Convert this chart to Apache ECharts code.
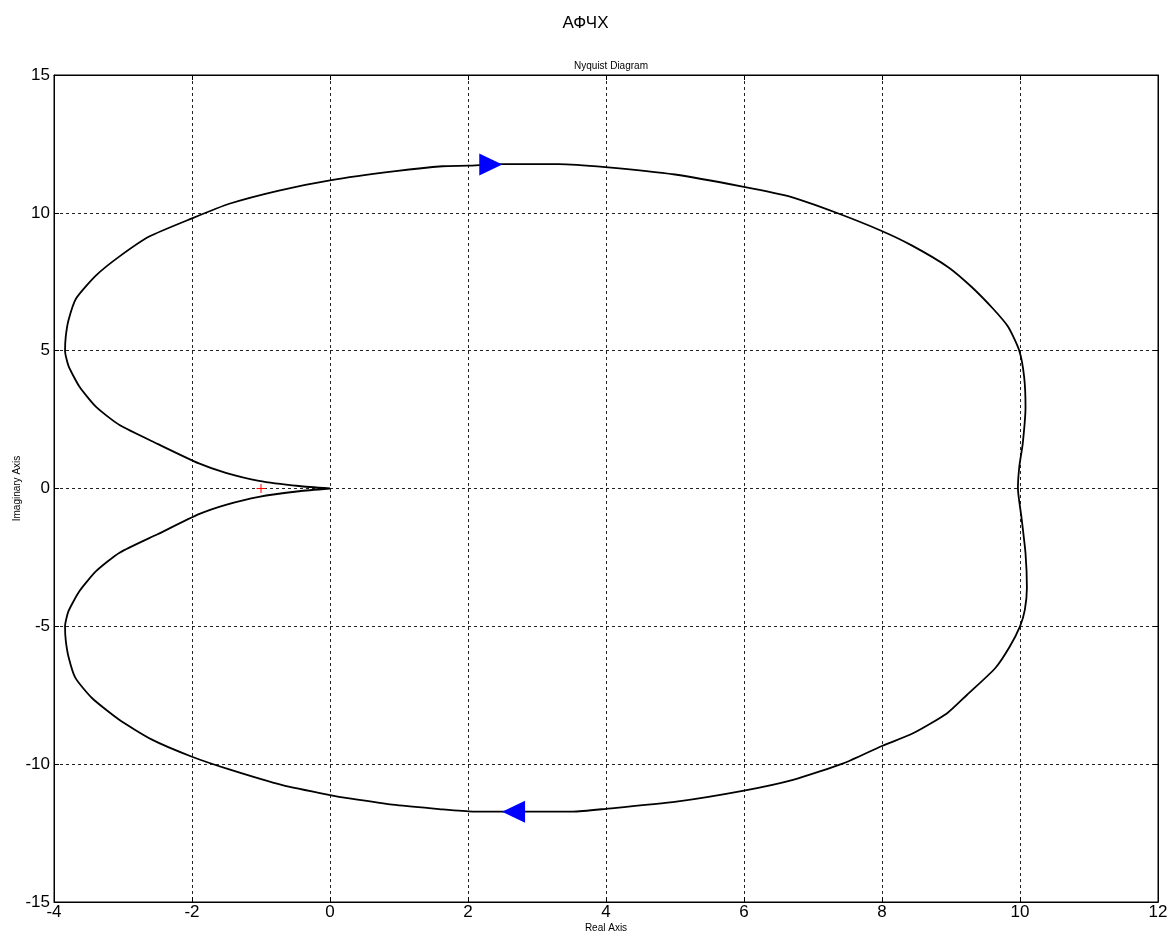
<!DOCTYPE html>
<html>
<head>
<meta charset="utf-8">
<title>АФЧХ</title>
<script src="https://cdn.jsdelivr.net/npm/echarts@6/dist/echarts.min.js"></script>
<style>
  html, body { margin: 0; padding: 0; background: #fff; }
  #chart { width: 1171px; height: 938px; }
</style>
</head>
<body>
<div id="chart"></div>
<script>
// Nyquist locus W(jω), traced over ω from -∞ to +∞ (real and imaginary parts)
const curveRe = [
  0.00, -0.45, -1.03, -1.51, -1.90, -2.50, -3.05, -3.39, -3.63, -3.79, -3.84, -3.83,
  -3.79, -3.68, -3.39, -3.05, -2.62, -2.00, -1.46, -0.74, 0.00, 0.95, 1.63, 2.00,
  2.49, 3.31, 3.99, 5.00, 5.98, 6.69, 7.32, 7.98, 8.43, 8.96, 9.30, 9.61, 9.83,
  9.99, 10.06, 10.08, 10.04, 9.99, 9.97, 10.02, 10.08, 10.10, 10.07, 10.00, 9.85,
  9.64, 9.23, 8.94, 8.45, 8.00, 7.44, 6.71, 6.00, 5.02, 4.00, 3.52, 2.07, 1.58,
  0.95, 0.28, 0.00, -0.69, -1.46, -2.00, -2.58, -3.06, -3.45, -3.69, -3.79, -3.83,
  -3.84, -3.79, -3.63, -3.39, -3.05, -2.50, -1.90, -1.51, -1.03, -0.45, 0.00
];
const curveIm = [
  0.00, 0.09, 0.28, 0.57, 0.91, 1.62, 2.30, 2.96, 3.69, 4.45, 5.00, 5.50,
  6.10, 6.89, 7.73, 8.42, 9.14, 9.80, 10.33, 10.81, 11.18, 11.51, 11.69, 11.71,
  11.77, 11.77, 11.66, 11.39, 10.95, 10.57, 10.02, 9.36, 8.82, 8.03, 7.31, 6.52, 5.86,
  5.00, 4.05, 2.96, 1.64, 0.79, 0.00, -1.02, -2.35, -3.60, -4.40, -5.00, -5.74,
  -6.52, -7.49, -8.16, -8.88, -9.34, -9.97, -10.57, -10.96, -11.36, -11.62, -11.72, -11.72, -11.63,
  -11.48, -11.24, -11.12, -10.76, -10.19, -9.73, -9.11, -8.38, -7.60, -6.87, -6.10, -5.50,
  -5.00, -4.45, -3.72, -3.00, -2.33, -1.66, -0.93, -0.59, -0.30, -0.10, 0.00
];

// Direction arrows on the locus: [re, im, rotation in degrees]
const arrowRe = [2.33, 2.66];
const arrowIm = [11.75, -11.73];
const arrowRot = [-90, 90];

// Critical point (-1, j0)
const criticalPoint = [-1, 0];

// Axis ranges and tick labels
const xTicks = [-4, -2, 0, 2, 4, 6, 8, 10, 12];
const yTicks = [-15, -10, -5, 0, 5, 10, 15];

const curveData = curveRe.map((re, i) => [re, curveIm[i]]);
const arrowData = arrowRe.map((re, i) => ({
  value: [re, arrowIm[i]],
  symbolRotate: arrowRot[i]
}));

const FONT = '"Liberation Sans", Arial, Helvetica, sans-serif';

const gridDash = { color: '#222', type: [3, 3], width: 1 };

function valueAxis(ticks, extra) {
  return Object.assign({
    type: 'value',
    min: ticks[0],
    max: ticks[ticks.length - 1],
    interval: ticks[1] - ticks[0],
    axisLine: { show: true, onZero: false, lineStyle: { color: '#000', width: 1 } },
    axisTick: { show: true, inside: true, length: 5, lineStyle: { color: '#000' } },
    splitLine: { show: false },
    axisLabel: { show: false }
  }, extra);
}

const chart = echarts.init(document.getElementById('chart'), null, { renderer: 'canvas' });

chart.setOption({
  backgroundColor: '#fff',
  animation: false,
  textStyle: { fontFamily: FONT },
  title: [
    {
      text: 'АФЧХ',
      left: 'center',
      top: 10,
      textStyle: { fontFamily: FONT, fontSize: 17, fontWeight: 'normal', color: '#000' }
    },
    {
      text: 'Nyquist Diagram',
      left: 606,
      textAlign: 'center',
      top: 56,
      textStyle: { fontFamily: FONT, fontSize: 10, fontWeight: 'normal', color: '#000' }
    }
  ],
  grid: {
    left: 54, top: 75, width: 1104, height: 827,
    outerBoundsMode: 'none',
    containLabel: false,
    show: true, borderColor: '#000', borderWidth: 1, backgroundColor: '#fff'
  },
  xAxis: [
    valueAxis(xTicks, {
      position: 'bottom',
      name: 'Real Axis',
      nameLocation: 'middle',
      nameGap: 21,
      nameMoveOverlap: false,
      nameTextStyle: { fontFamily: FONT, fontSize: 10, color: '#000' },
      splitLine: { show: true, lineStyle: gridDash },
      axisLabel: { show: true, fontFamily: FONT, fontSize: 17, color: '#000', margin: 2 }
    }),
    valueAxis(xTicks, { position: 'top' })
  ],
  yAxis: [
    valueAxis(yTicks, {
      position: 'left',
      name: 'Imaginary Axis',
      nameLocation: 'middle',
      nameGap: 32,
      nameMoveOverlap: false,
      nameTextStyle: { fontFamily: FONT, fontSize: 10, color: '#000' },
      splitLine: { show: true, lineStyle: gridDash },
      axisLabel: { show: true, fontFamily: FONT, fontSize: 17, color: '#000', margin: 4 }
    }),
    valueAxis(yTicks, { position: 'right' })
  ],
  series: [
    {
      name: 'W(jω)',
      type: 'line',
      data: curveData,
      showSymbol: false,
      symbol: 'none',
      smooth: 0.2,
      lineStyle: { color: '#000', width: 1.8 },
      z: 3
    },
    {
      name: 'direction',
      type: 'scatter',
      data: arrowData,
      symbol: 'triangle',
      symbolSize: [22, 23],
      itemStyle: { color: '#0000ff', opacity: 1 },
      z: 4
    },
    {
      name: '(-1, j0)',
      type: 'scatter',
      data: [criticalPoint],
      symbol: 'path://M0,5L10,5M5,0L5,10',
      symbolSize: 9,
      itemStyle: { color: 'none', borderColor: '#ff0000', borderWidth: 1, opacity: 1 },
      z: 5
    }
  ]
});
</script>
</body>
</html>
